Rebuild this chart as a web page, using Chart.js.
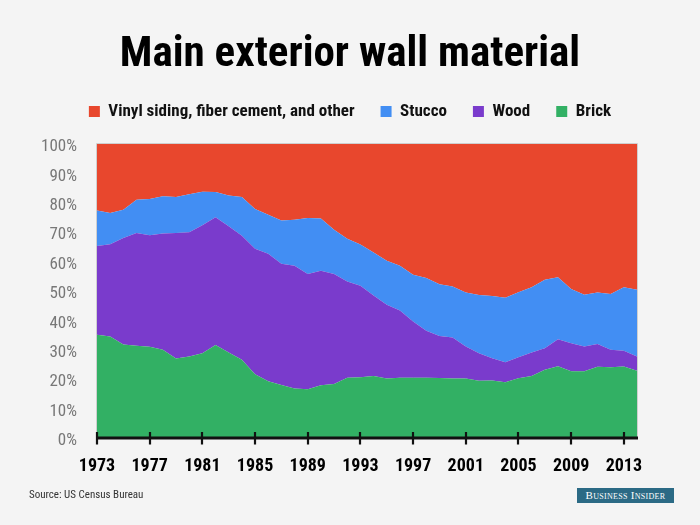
<!DOCTYPE html>
<html>
<head>
<meta charset="utf-8">
<script src="https://cdn.jsdelivr.net/npm/chart.js@4.4.1/dist/chart.umd.min.js"></script>
<style>
  html, body { margin: 0; padding: 0; background: #f4f4f4; }
  #wrap { position: relative; width: 700px; height: 525px; overflow: hidden; background: #f4f4f4; }
  #c { position: absolute; left: 0; top: 0; }
  #source { position: absolute; left: 29px; top: 488px; font: 11px 'Roboto Condensed', 'DejaVu Sans Condensed', sans-serif; color: #333; }
  #logo { position: absolute; left: 577px; top: 488px; width: 97px; height: 15px; background: #2b6a85; color: #fff;
          font: 11px 'Liberation Serif', 'DejaVu Serif', serif; font-variant: small-caps; letter-spacing: 0.3px;
          text-align: center; line-height: 15px; }
</style>
</head>
<body>
<div id="wrap">
  <canvas id="c" width="700" height="525"></canvas>
  <div id="source">Source: US Census Bureau</div>
  <div id="logo">Business Insider</div>
</div>
<script>
const FONT = "'Roboto Condensed', 'DejaVu Sans Condensed', sans-serif";

const years = [1973,1974,1975,1976,1977,1978,1979,1980,1981,1982,1983,1984,1985,1986,1987,1988,1989,1990,1991,1992,1993,1994,1995,1996,1997,1998,1999,2000,2001,2002,2003,2004,2005,2006,2007,2008,2009,2010,2011,2012,2013,2014];
const brick  = [35.1,34.5,31.8,31.4,31.0,30.0,27.0,27.7,28.8,31.6,29.1,26.6,21.7,19.3,18.0,16.8,16.6,17.9,18.4,20.5,20.7,21.1,20.2,20.5,20.5,20.5,20.4,20.2,20.2,19.5,19.6,19.0,20.3,21.1,23.2,24.4,22.7,22.7,24.2,24.1,24.3,22.9];
const wood   = [30.2,31.4,36.2,38.3,38.0,39.6,42.7,42.3,43.6,43.5,42.9,42.2,42.7,43.4,41.3,41.8,39.2,39.0,37.4,32.7,31.1,27.4,25.1,22.9,19.1,16.0,14.3,14.0,10.9,9.3,7.5,6.8,7.2,8.0,7.3,9.2,9.5,8.4,7.8,5.9,5.4,4.8];
const stucco = [12.1,10.6,9.6,11.3,12.3,12.6,12.3,12.9,11.4,8.6,10.5,13.2,13.5,13.2,14.7,15.6,19.0,17.8,15.0,14.6,14.0,14.6,15.0,15.2,15.9,17.9,17.6,17.3,18.4,19.8,21.2,21.9,22.1,22.2,23.3,21.1,18.5,17.6,17.5,19.0,21.6,22.7];
const vinyl  = [22.6,23.5,22.4,19.0,18.7,17.8,18.0,17.1,16.2,16.3,17.5,18.0,22.1,24.1,26.0,25.8,25.2,25.3,29.2,32.2,34.2,36.9,39.7,41.4,44.5,45.6,47.7,48.5,50.5,51.4,51.7,52.3,50.4,48.7,46.2,45.3,49.3,51.3,50.5,51.0,48.7,49.6];
const tickYears = [1973,1977,1981,1985,1989,1993,1997,2001,2005,2009,2013];
const seriesNames = ['Brick','Wood','Stucco','Vinyl siding, fiber cement, and other'];
const titleText = 'Main exterior wall material';

const colors = ['#32b064', '#7a3bcc', '#428ef3', '#e8472d'];
const seriesData = [brick, wood, stucco, vinyl];

const datasets = seriesData.map((arr, i) => ({
  label: seriesNames[i],
  data: years.map((y, k) => ({ x: y, y: arr[k] })),
  backgroundColor: colors[i],
  borderColor: colors[i],
  borderWidth: 0,
  pointRadius: 0,
  pointHoverRadius: 0,
  tension: 0,
  fill: i === 0 ? 'origin' : '-1'
}));

const frame = {
  id: 'frame',
  afterDraw(chart) {
    const { ctx, chartArea: a, scales } = chart;
    ctx.save();
    ctx.strokeStyle = '#cfcfcf';
    ctx.lineWidth = 1;
    ctx.beginPath();
    ctx.moveTo(a.left - 0.5, a.bottom);
    ctx.lineTo(a.left - 0.5, a.top - 0.5);
    ctx.lineTo(a.right + 0.5, a.top - 0.5);
    ctx.lineTo(a.right + 0.5, a.bottom);
    ctx.stroke();
    ctx.strokeStyle = '#111';
    ctx.lineWidth = 3;
    ctx.beginPath();
    ctx.moveTo(a.left - 1, a.bottom);
    ctx.lineTo(a.right + 1, a.bottom);
    ctx.stroke();
    ctx.lineWidth = 2.2;
    scales.x.ticks.forEach(t => {
      const px = Math.round(scales.x.getPixelForValue(t.value));
      ctx.beginPath();
      ctx.moveTo(px, a.bottom - 6);
      ctx.lineTo(px, a.bottom + 6.5);
      ctx.stroke();
    });
    ctx.restore();
  }
};

new Chart(document.getElementById('c'), {
  type: 'line',
  data: { datasets },
  plugins: [frame],
  options: {
    responsive: false,
    animation: false,
    events: [],
    layout: { padding: { left: 0, right: 0, top: 0, bottom: 42 } },
    plugins: {
      title: {
        display: true,
        text: titleText,
        color: '#000',
        font: { family: FONT, size: 43, weight: 'bold', lineHeight: 1 },
        padding: { top: 34, bottom: 0 }
      },
      legend: {
        display: true,
        reverse: true,
        labels: {
          color: '#111',
          boxWidth: 11,
          boxHeight: 11,
          padding: 26,
          font: { family: FONT, size: 17, weight: 'bold' }
        }
      },
      tooltip: { enabled: false }
    },
    scales: {
      x: {
        type: 'linear',
        min: 1973,
        max: 2014,
        z: 1,
        afterBuildTicks: (axis) => { axis.ticks = tickYears.map(v => ({ value: v })); },
        afterFit: (scale) => { scale.height = 45; },
        grid: { color: 'rgba(0,0,0,0.08)', lineWidth: 1, drawTicks: false },
        border: { display: false },
        ticks: {
          padding: 18,
          color: '#000',
          autoSkip: false,
          maxRotation: 0,
          font: { family: FONT, size: 18, weight: 'bold' },
          callback: (v) => String(v)
        }
      },
      gap: {
        type: 'linear',
        axis: 'x',
        position: 'top',
        display: true,
        min: 0,
        max: 1,
        grid: { display: false, drawTicks: false },
        border: { display: false },
        ticks: { display: false },
        afterFit: (scale) => { scale.height = 14; }
      },
      y: {
        stacked: true,
        min: 0,
        max: 100,
        z: 1,
        afterFit: (scale) => { scale.width = 97; },
        grid: { color: 'rgba(0,0,0,0.08)', lineWidth: 1, drawTicks: false },
        border: { display: false },
        ticks: {
          stepSize: 10,
          padding: 20,
          labelOffset: 3,
          color: '#777',
          font: { family: FONT, size: 17 },
          callback: (v) => v + '%'
        }
      },
      side: {
        type: 'linear',
        axis: 'y',
        position: 'right',
        display: true,
        min: 0,
        max: 1,
        grid: { display: false, drawTicks: false },
        border: { display: false },
        ticks: { display: false },
        afterFit: (scale) => { scale.width = 63; }
      }
    }
  }
});
</script>
</body>
</html>
